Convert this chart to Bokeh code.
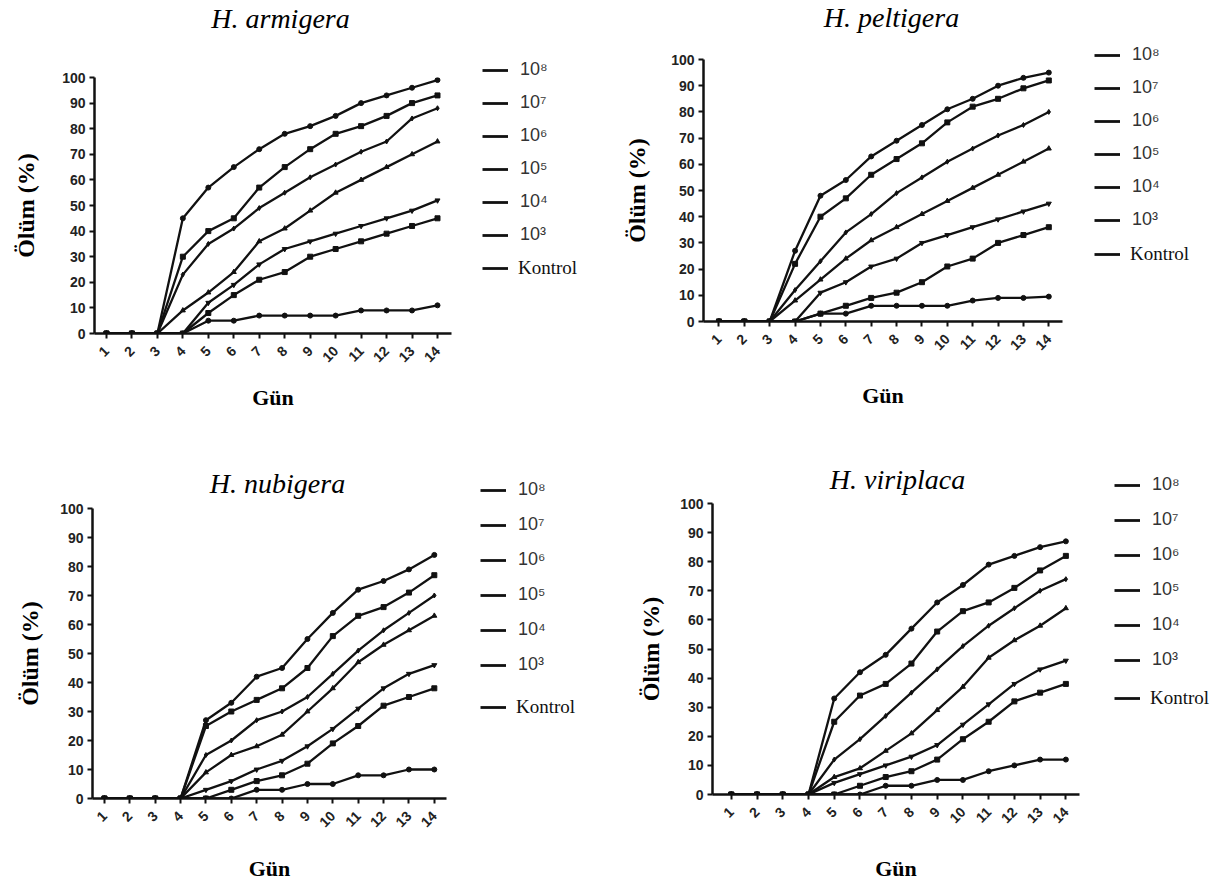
import math
from bokeh.plotting import figure
from bokeh.models import Range1d, Legend, LegendItem, FixedTicker, Label
from bokeh.layouts import column, row
from bokeh.embed import file_html
from bokeh.resources import INLINE

# ---------------- data ----------------
days = list(range(1, 15))
y_ticks = list(range(0, 101, 10))
dose_labels = ["10⁸", "10⁷", "10⁶", "10⁵", "10⁴", "10³"]
control_label = "Kontrol"
x_label = "Gün"
y_label = "Ölüm (%)"
titles = ["H. armigera", "H. peltigera", "H. nubigera", "H. viriplaca"]

# H. armigera
arm_1e8 = [0, 0, 0, 45, 57, 65, 72, 78, 81, 85, 90, 93, 96, 99]
arm_1e7 = [0, 0, 0, 30, 40, 45, 57, 65, 72, 78, 81, 85, 90, 93]
arm_1e6 = [0, 0, 0, 23, 35, 41, 49, 55, 61, 66, 71, 75, 84, 88]
arm_1e5 = [0, 0, 0, 9, 16, 24, 36, 41, 48, 55, 60, 65, 70, 75]
arm_1e4 = [0, 0, 0, 0, 12, 19, 27, 33, 36, 39, 42, 45, 48, 52]
arm_1e3 = [0, 0, 0, 0, 8, 15, 21, 24, 30, 33, 36, 39, 42, 45]
arm_ctrl = [0, 0, 0, 0, 5, 5, 7, 7, 7, 7, 9, 9, 9, 11]

# H. peltigera
pel_1e8 = [0, 0, 0, 27, 48, 54, 63, 69, 75, 81, 85, 90, 93, 95]
pel_1e7 = [0, 0, 0, 22, 40, 47, 56, 62, 68, 76, 82, 85, 89, 92]
pel_1e6 = [0, 0, 0, 12, 23, 34, 41, 49, 55, 61, 66, 71, 75, 80]
pel_1e5 = [0, 0, 0, 8, 16, 24, 31, 36, 41, 46, 51, 56, 61, 66]
pel_1e4 = [0, 0, 0, 0, 11, 15, 21, 24, 30, 33, 36, 39, 42, 45]
pel_1e3 = [0, 0, 0, 0, 3, 6, 9, 11, 15, 21, 24, 30, 33, 36]
pel_ctrl = [0, 0, 0, 0, 3, 3, 6, 6, 6, 6, 8, 9, 9, 9.5]

# H. nubigera
nub_1e8 = [0, 0, 0, 0, 27, 33, 42, 45, 55, 64, 72, 75, 79, 84]
nub_1e7 = [0, 0, 0, 0, 25, 30, 34, 38, 45, 56, 63, 66, 71, 77]
nub_1e6 = [0, 0, 0, 0, 15, 20, 27, 30, 35, 43, 51, 58, 64, 70]
nub_1e5 = [0, 0, 0, 0, 9, 15, 18, 22, 30, 38, 47, 53, 58, 63]
nub_1e4 = [0, 0, 0, 0, 3, 6, 10, 13, 18, 24, 31, 38, 43, 46]
nub_1e3 = [0, 0, 0, 0, 0, 3, 6, 8, 12, 19, 25, 32, 35, 38]
nub_ctrl = [0, 0, 0, 0, 0, 0, 3, 3, 5, 5, 8, 8, 10, 10]

# H. viriplaca
vir_1e8 = [0, 0, 0, 0, 33, 42, 48, 57, 66, 72, 79, 82, 85, 87]
vir_1e7 = [0, 0, 0, 0, 25, 34, 38, 45, 56, 63, 66, 71, 77, 82]
vir_1e6 = [0, 0, 0, 0, 12, 19, 27, 35, 43, 51, 58, 64, 70, 74]
vir_1e5 = [0, 0, 0, 0, 6, 9, 15, 21, 29, 37, 47, 53, 58, 64]
vir_1e4 = [0, 0, 0, 0, 4, 7, 10, 13, 17, 24, 31, 38, 43, 46]
vir_1e3 = [0, 0, 0, 0, 0, 3, 6, 8, 12, 19, 25, 32, 35, 38]
vir_ctrl = [0, 0, 0, 0, 0, 0, 3, 3, 5, 5, 8, 10, 12, 12]

panel_data = [
    [arm_1e8, arm_1e7, arm_1e6, arm_1e5, arm_1e4, arm_1e3, arm_ctrl],
    [pel_1e8, pel_1e7, pel_1e6, pel_1e5, pel_1e4, pel_1e3, pel_ctrl],
    [nub_1e8, nub_1e7, nub_1e6, nub_1e5, nub_1e4, nub_1e3, nub_ctrl],
    [vir_1e8, vir_1e7, vir_1e6, vir_1e5, vir_1e4, vir_1e3, vir_ctrl],
]

# ---------------- layout / style ----------------
markers = ["circle", "square", "diamond", "triangle", "inverted_triangle", "square", "circle"]
INK = "#111111"

cfgs = [
    dict(w=456, lw=155, h=444, th=40, tx=280, ty=22, bl=94, bt=37, bb=111,
         x0=0.53, x1=14.55, ylab_sd=20, xlab_sd=15, lx=26, ly=199, lyc=165, sp=12),
    dict(w=456, lw=155, h=444, th=40, tx=280, ty=23, bl=92, bt=19, bb=123,
         x0=0.39, x1=14.54, ylab_sd=18, xlab_sd=25, lx=27, ly=214, lyc=179, sp=12),
    dict(w=451, lw=160, h=442, th=56, tx=277, ty=17, bl=92, bt=8, bb=88,
         x0=0.53, x1=14.48, ylab_sd=14, xlab_sd=21, lx=29, ly=211, lyc=168, sp=14),
    dict(w=473, lw=138, h=442, th=51, tx=286, ty=16, bl=101, bt=8, bb=92,
         x0=0.27, x1=14.53, ylab_sd=13, xlab_sd=25, lx=30, ly=216, lyc=177, sp=14),
]


def no_align(fig):
    if "frame_align" in fig.properties():
        fig.frame_align = False


def bare_canvas(width, height, xr, yr):
    f = figure(width=width, height=height, output_backend="svg", toolbar_location=None,
               x_range=xr, y_range=yr,
               x_axis_location=None, y_axis_location=None, title_location=None,
               min_border=0, min_border_left=0, min_border_right=0,
               min_border_top=0, min_border_bottom=0)
    f.outline_line_color = None
    f.xgrid.visible = False
    f.ygrid.visible = False
    f.background_fill_color = "white"
    f.border_fill_color = "white"
    no_align(f)
    return f


def make_panel(title, series, c):
    ph = c["h"] - c["th"]
    p = figure(width=c["w"], height=ph, output_backend="svg", toolbar_location=None,
               x_range=Range1d(c["x0"], c["x1"]), y_range=Range1d(0, 100),
               title_location=None,
               min_border_left=c["bl"], min_border_right=5,
               min_border_top=c["bt"], min_border_bottom=c["bb"])
    no_align(p)
    p.outline_line_color = None
    p.xgrid.visible = False
    p.ygrid.visible = False
    p.background_fill_color = "white"
    p.border_fill_color = "white"

    p.xaxis.ticker = FixedTicker(ticks=days)
    p.yaxis.ticker = FixedTicker(ticks=y_ticks)
    p.axis.axis_line_width = 2.5
    p.axis.axis_line_color = INK
    p.axis.major_tick_line_width = 2
    p.axis.major_tick_line_color = INK
    p.axis.major_tick_out = 5
    p.axis.major_tick_in = 0
    p.axis.minor_tick_line_color = None
    p.axis.major_label_text_font = "Liberation Sans"
    p.axis.major_label_text_font_style = "bold"
    p.axis.major_label_text_font_size = "14px"
    p.axis.major_label_text_color = "#222222"
    p.xaxis.major_label_orientation = math.pi / 4
    p.xaxis.major_label_standoff = 10
    p.yaxis.major_label_standoff = 4

    p.xaxis.axis_label = x_label
    p.yaxis.axis_label = y_label
    p.axis.axis_label_text_font = "Liberation Serif"
    p.axis.axis_label_text_font_style = "bold"
    p.axis.axis_label_text_color = "black"
    p.xaxis.axis_label_text_font_size = "22px"
    p.yaxis.axis_label_text_font_size = "24px"
    p.xaxis.axis_label_standoff = c["xlab_sd"]
    p.yaxis.axis_label_standoff = c["ylab_sd"]

    for vals, mk in zip(series, markers):
        p.line(days, vals, line_width=2.3, line_color=INK)
        p.scatter(days, vals, marker=mk, size=5, color=INK)

    # title strip above the plot
    t = bare_canvas(c["w"], c["th"], Range1d(0, c["w"]), Range1d(0, c["th"]))
    t.add_layout(Label(x=c["tx"], y=c["ty"], text=title, text_align="center",
                       text_baseline="middle", text_font="Liberation Serif",
                       text_font_style="italic", text_font_size="28px",
                       text_color="black"))

    # legend column (its ranges keep the proxy series out of view)
    q = bare_canvas(c["lw"], c["h"], Range1d(200, 201), Range1d(200, 201))
    items = []
    for vals in series:
        lr = q.line(days, vals, line_width=2.8, line_color=INK)
        items.append([lr])
    leg = Legend(items=[LegendItem(label=lab, renderers=r) for lab, r in zip(dose_labels, items[:6])],
                 location=(c["lx"], c["ly"]), orientation="vertical", spacing=c["sp"],
                 glyph_width=26, glyph_height=20, label_height=20, label_standoff=12,
                 padding=0, margin=0, border_line_color=None, background_fill_alpha=0,
                 label_text_font="Liberation Sans", label_text_font_size="18px",
                 label_text_color="#333333")
    q.add_layout(leg)
    leg2 = Legend(items=[LegendItem(label=control_label, renderers=items[6])],
                  location=(c["lx"], c["lyc"]), orientation="vertical",
                  glyph_width=26, glyph_height=20, label_height=20, label_standoff=10,
                  padding=0, margin=0, border_line_color=None, background_fill_alpha=0,
                  label_text_font="Liberation Serif", label_text_font_size="19px",
                  label_text_color=INK)
    q.add_layout(leg2)
    return row(column(t, p), q)


panels = [make_panel(t, s, c) for t, s, c in zip(titles, panel_data, cfgs)]
layout = column(row(panels[0], panels[1]), row(panels[2], panels[3]))

open("out.html", "w").write(file_html(layout, INLINE))
